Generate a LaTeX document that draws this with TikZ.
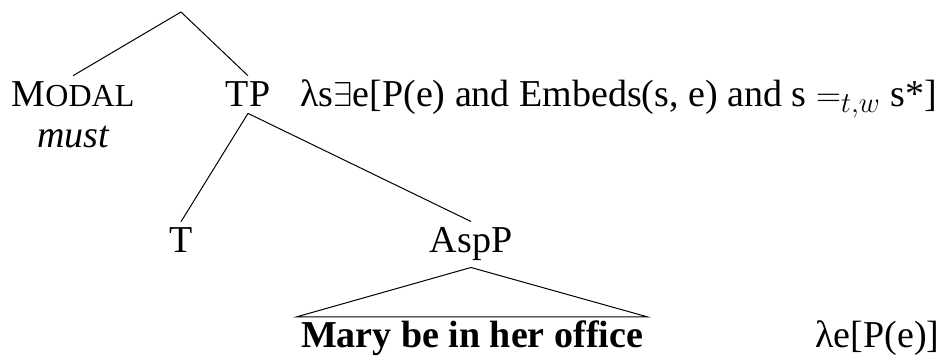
\documentclass[tikz,border=0pt]{standalone}
\usepackage{fontspec}
\setmainfont{Liberation Serif}
\usetikzlibrary{positioning}
\tikzset{
    catnode/.style={inner sep=3pt, anchor=base, font=\fontsize{19}{23}\selectfont},
    semnode/.style={inner sep=0pt, anchor=base west, font=\fontsize{19}{23}\selectfont},
    treeline/.style={line width=0.5pt}
}

\begin{document}
\begin{tikzpicture}[x=0.5pt, y=-0.5pt]
\useasboundingbox (0,0) rectangle (944,358);
\coordinate (root) at (181,12);
\node[catnode] (modal) at (73,107) {M{\fontsize{16}{19}\selectfont ODAL}};
\node[catnode, font=\fontsize{19}{23}\selectfont\itshape] (must) at (73,148) {must};
\node[catnode] (tp) at (248,107) {TP};
\node[semnode] (tpsem) at (300,107) {λs$\exists$e[P(e) and Embeds(s, e) and s $=_{t,w}$ s*]};
\node[catnode] (t) at (181,253) {T};
\node[catnode] (aspp) at (471,253) {AspP};
\node[catnode, inner sep=2pt, font=\fontsize{19}{23}\selectfont\bfseries] (mary) at (472,348) {Mary be in her office};
\node[semnode] (asppsem) at (815,348) {λe[P(e)]};
\draw[treeline] (root) -- (modal.north);
\draw[treeline] (root) -- (tp.north);
\draw[treeline] (tp.south) -- (t.north);
\draw[treeline] (tp.south) -- (aspp.north);
\draw[treeline] (aspp.south) -- (mary.north west) -- (mary.north east) -- cycle;
\end{tikzpicture}
\end{document}
